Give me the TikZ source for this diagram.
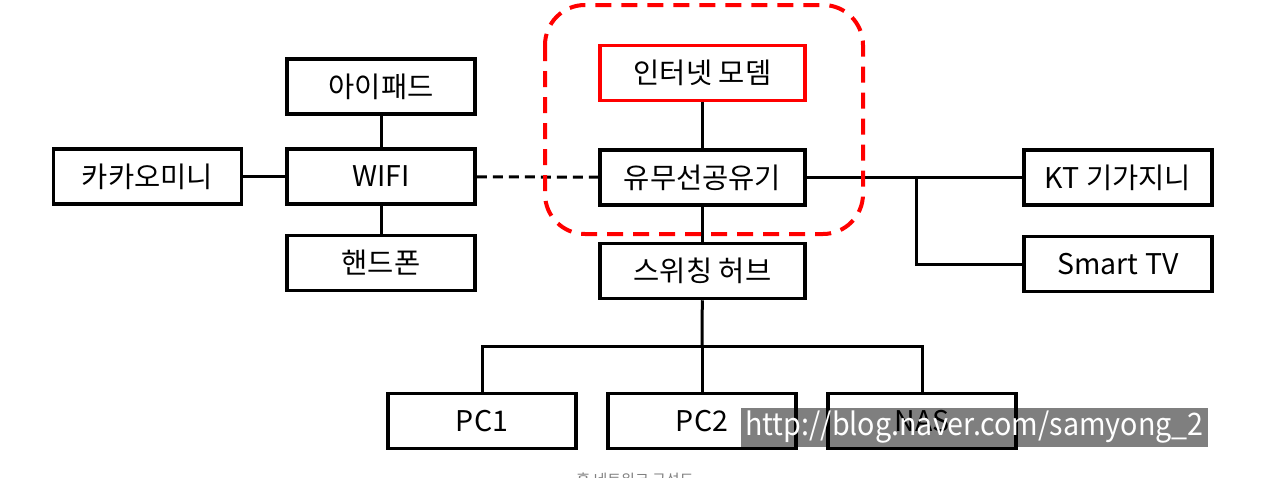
\documentclass[tikz,border=0pt]{standalone}
\usepackage{fontspec}
\setmainfont{Noto Sans CJK KR}
\begin{document}
\begin{tikzpicture}[x=1pt,y=-1pt,
  box/.style={draw, line width=3.5pt, fill=white, inner sep=0pt, minimum width=205pt, minimum height=55pt, font=\fontsize{28.5}{32}\selectfont},
  sbox/.style={box, minimum width=188pt},
  conn/.style={line width=3pt},
  wire/.style={conn, dash pattern=on 10pt off 6pt},
  zone/.style={draw=red, line width=4pt, rounded corners=40pt, dash pattern=on 16pt off 10pt}]
\useasboundingbox (0,0) rectangle (1280,477);
% nodes
\node[box, draw=red] (modem) at (702.5,73) {인터넷 모뎀};
\node[box] (router) at (702.5,177.5) {유무선공유기};
\node[box] (hub) at (702.5,271) {스위칭 허브};
\node[sbox] (ipad) at (381,86.5) {아이패드};
\node[sbox] (wifi) at (381,176.5) {WIFI};
\node[sbox] (phone) at (381,263) {핸드폰};
\node[sbox] (kakao) at (147.5,176.5) {카카오미니};
\node[sbox] (kt) at (1118,177.5) {KT 기가지니};
\node[sbox] (tv) at (1118,264) {Smart TV};
\node[sbox] (pc1) at (482,421) {PC1};
\node[sbox] (pc2) at (702,421) {PC2};
\node[sbox] (nas) at (922,421) {NAS};
% connectors
\draw[conn] (modem) -- (router);
\draw[conn] (router) -- (hub);
\draw[conn] (router.east) -- (kt.west |- router.east);
\coordinate (br) at (916,177.5);
\draw[conn] (br) |- (tv.west);
\draw[wire] (wifi) -- (router);
\draw[conn] (kakao) -- (wifi);
\draw[conn] (ipad) -- (wifi);
\draw[conn] (wifi) -- (phone);
\coordinate (bus) at (702,346);
\draw[conn] (hub) -- (bus);
\draw[conn] (pc1.north) |- (bus) -| (nas.north);
\draw[conn] (bus) -- (pc2.north);
% dashed zone
\draw[zone] (545,5) rectangle (863,234);
% watermark
\node[fill=black, fill opacity=0.5, text opacity=1, text=white, inner sep=0pt, minimum width=467pt, minimum height=39pt, font=\fontsize{31}{34}\selectfont] (wm) at (974.5,427.5) {\scalebox{0.925}[1]{http://blog.naver.com/samyong\_2}};
% caption (cut off at the bottom edge, as in the reference)
\begin{scope}
\clip (0,0) rectangle (1280,477);
\node[text=gray, font=\fontsize{15}{18}\selectfont, anchor=north] (cap) at (635,469) {홈 네트워크 구성도};
\end{scope}
\end{tikzpicture}
\end{document}
